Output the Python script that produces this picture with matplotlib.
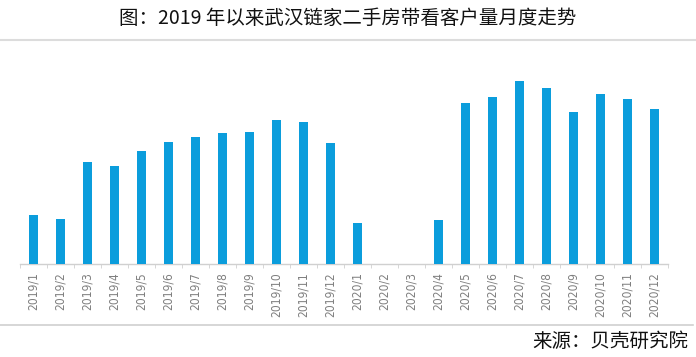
import matplotlib
matplotlib.use("Agg")
import matplotlib.pyplot as plt
from matplotlib.lines import Line2D

plt.rcParams['font.family'] = ['Noto Sans CJK SC', 'DejaVu Sans']

# monthly viewing clients (relative units)
months = ['2019/1', '2019/2', '2019/3', '2019/4', '2019/5', '2019/6',
          '2019/7', '2019/8', '2019/9', '2019/10', '2019/11', '2019/12',
          '2020/1', '2020/2', '2020/3', '2020/4', '2020/5', '2020/6',
          '2020/7', '2020/8', '2020/9', '2020/10', '2020/11', '2020/12']
values = [49, 45, 102, 98, 113, 122, 127, 131, 132, 144, 142, 121,
          41, 0, 0, 44, 161, 167, 183, 176, 152, 170, 165, 155]

title = '图：2019 年以来武汉链家二手房带看客户量月度走势'
source = '来源：贝壳研究院'

W, H = 696, 357
fig = plt.figure(figsize=(W / 100, H / 100), dpi=100)
fig.patch.set_facecolor('white')

# axes: x from 20 to 668 px, baseline at y=264, top at y=64
ax = fig.add_axes([20 / W, (H - 264) / H, 648 / W, 200 / H])
x = list(range(len(months)))
ax.bar(x, values, width=0.3, color='#0b9ddc', zorder=3)
ax.set_xlim(-0.5, len(months) - 0.5)
ax.set_ylim(0, 200)

for s in ['top', 'right', 'left']:
    ax.spines[s].set_visible(False)
ax.spines['bottom'].set_color('#d0d0d0')
ax.spines['bottom'].set_linewidth(1.0)
ax.set_yticks([])
ax.set_xticks(x)
ax.set_xticklabels(months, rotation=90, fontsize=8.6, color='#7f7f7f',
                   family=['DejaVu Sans'], stretch='condensed')
ax.set_xticks([i - 0.5 for i in range(len(months) + 1)], minor=True)
ax.tick_params(axis='x', which='major', length=0, pad=6)
ax.tick_params(axis='x', which='minor', length=3, color='#d0d0d0')

# title and separators
fig.text(0.5, 1 - 18 / H, title, ha='center', va='center', fontsize=14,
         color='#111111')
fig.add_artist(Line2D([0, 1], [1 - 40 / H, 1 - 40 / H], color='#dcdcdc',
                      lw=1.5, transform=fig.transFigure))
fig.add_artist(Line2D([0, 693 / W], [1 - 325 / H, 1 - 325 / H], color='#d0d0d0',
                      lw=1.2, transform=fig.transFigure))
fig.text(688 / W, 1 - 341 / H, source, ha='right', va='center', fontsize=14,
         color='#111111')

fig.savefig('out.png', dpi=100, facecolor='white')
